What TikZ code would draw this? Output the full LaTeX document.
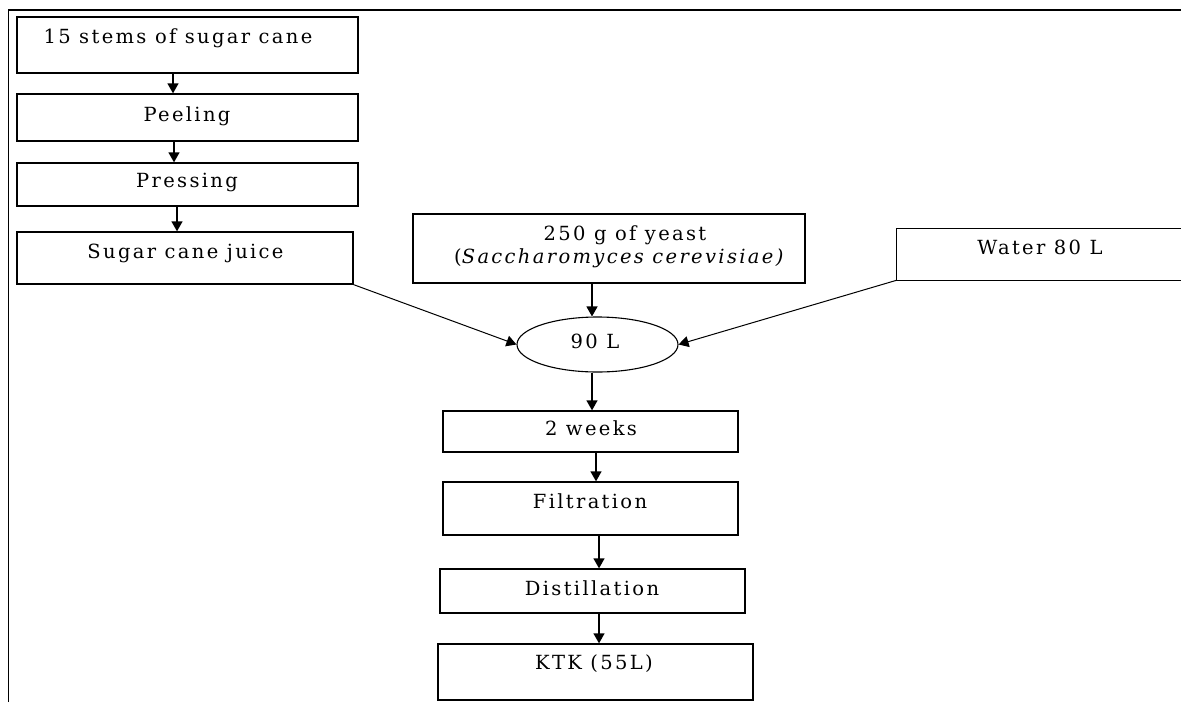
\documentclass[tikz,border=0pt]{standalone}
\usepackage{fontspec}
\setmainfont{DejaVu Serif}[LetterSpace=12]
\usetikzlibrary{arrows.meta,shapes.geometric}
\tikzset{
  box/.style={draw, line width=1.3pt, rectangle, inner sep=0pt},
  oval/.style={draw, line width=1.1pt, ellipse, inner sep=0pt},
  txt/.style={anchor=base, inner sep=0pt, font=\fontsize{19.5}{23}\selectfont},
  arr/.style={line width=1.3pt, -{Triangle[width=11pt,length=10pt]}},
  thin arr/.style={line width=1pt, -{Triangle[width=11pt,length=10pt]}}
}
\begin{document}
\begin{tikzpicture}[x=1pt,y=-1pt]
\useasboundingbox (0,0) rectangle (1181,702);
% frame
\draw[line width=1.5pt] (8.5,702) -- (8.5,10) -- (1181,10);
% left column
\node[box, minimum width=341pt, minimum height=56pt] (b1) at (187.5,45) {};
\node[box, minimum width=341pt, minimum height=47pt] (b2) at (187.5,117.5) {};
\node[box, minimum width=341pt, minimum height=43pt] (b3) at (187.5,184.5) {};
\node[box, minimum width=336pt, minimum height=52pt] (b4) at (185,258) {};
\node[txt] (t1) at (178,43) {15 stems of sugar cane};
\node[txt] (t2) at (187,121) {Peeling};
\node[txt] (t3) at (187,187) {Pressing};
\node[txt] (t4) at (185.5,258) {Sugar cane juice};
% yeast and water
\node[box, minimum width=392pt, minimum height=69pt] (yeast) at (609,248.5) {};
\node[txt] (ty1) at (625,240) {250 g of yeast};
\node[txt] (ty2) at (620,263) {(\textit{Saccharomyces cerevisiae)}};
\node[inner sep=0pt, minimum width=284pt, minimum height=51pt] (water) at (1039,254.5) {};
\draw[line width=1.3pt] (water.north east) -- (water.north west) -- (water.south west) -- (water.south east);
\node[txt] (tw) at (1040,254) {Water 80 L};
% mixture
\node[oval, minimum width=161pt, minimum height=55pt] (mix) at (597.5,344.5) {};
\node[txt] (tm) at (595,348) {90 L};
% lower column
\node[box, minimum width=295pt, minimum height=41pt] (w2) at (590.5,431.5) {};
\node[box, minimum width=295pt, minimum height=53pt] (filt) at (590.5,508.5) {};
\node[box, minimum width=305pt, minimum height=44pt] (dist) at (592.5,591) {};
\node[box, minimum width=315pt, minimum height=56pt] (ktk) at (595.5,672) {};
\node[txt] (t5) at (591,435) {2 weeks};
\node[txt] (t6) at (590,508) {Filtration};
\node[txt] (t7) at (592,595) {Distillation};
\node[txt] (t8) at (594,669) {KTK (55L)};
% arrows
\draw[arr] (b1.south -| 173,0) -- (b2.north -| 173,0);
\draw[arr] (b2.south -| 174,0) -- (b3.north -| 174,0);
\draw[arr] (b3.south -| 177,0) -- (b4.north -| 177,0);
\draw[arr] (yeast.south -| 592,0) -- (mix.north -| 592,0);
\draw[thin arr] (b4.south east) -- (mix.west);
\draw[thin arr] (water.south west) -- (mix.east);
\draw[arr] (mix.south -| 592,0) -- (w2.north -| 592,0);
\draw[arr] (w2.south -| 596,0) -- (filt.north -| 596,0);
\draw[arr] (filt.south -| 599,0) -- (dist.north -| 599,0);
\draw[arr] (dist.south -| 599,0) -- (ktk.north -| 599,0);
\end{tikzpicture}
\end{document}
